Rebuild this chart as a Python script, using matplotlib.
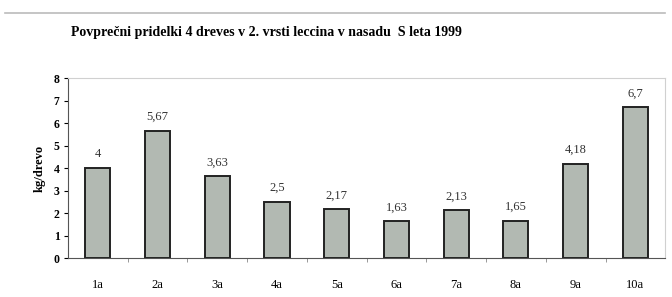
import matplotlib.pyplot as plt
from matplotlib.lines import Line2D

categories = ['1a', '2a', '3a', '4a', '5a', '6a', '7a', '8a', '9a', '10a']
values = [4.0, 5.67, 3.63, 2.5, 2.17, 1.63, 2.13, 1.65, 4.18, 6.7]
labels = ['4', '5,67', '3,63', '2,5', '2,17', '1,63', '2,13', '1,65', '4,18', '6,7']
yticks = [0, 1, 2, 3, 4, 5, 6, 7, 8]

plt.rcParams['font.family'] = ['Liberation Serif', 'DejaVu Serif']

fig = plt.figure(figsize=(6.72, 2.97), dpi=100)
ax = fig.add_axes([0.101, 0.131, 0.889, 0.606])

x = range(len(categories))
bars = ax.bar(x, values, width=0.42, color='#b2b9b2', edgecolor='#222222', linewidth=1.4)
for b, lab in zip(bars, labels):
    ax.text(b.get_x() + b.get_width() / 2, b.get_height() + 0.35, lab,
            ha='center', va='bottom', fontsize=9, color='#333333')

ax.set_xlim(-0.5, len(categories) - 0.5)
ax.set_ylim(0, 8)
ax.set_yticks(yticks)
ax.set_yticklabels([str(t) for t in yticks], fontsize=8.5, fontweight='bold')
ax.set_xticks(list(x))
ax.set_xticklabels(categories, fontsize=9)
ax.set_xticks([i + 0.5 for i in range(len(categories) - 1)], minor=True)
ax.tick_params(axis='x', which='major', length=0, pad=15)
ax.tick_params(axis='x', which='minor', length=3, color='#888888')
ax.tick_params(axis='y', length=3, pad=3)
ax.set_ylabel('kg/drevo', fontsize=9, fontweight='bold', labelpad=6)

for side in ['top', 'right']:
    ax.spines[side].set_color('#d0d0d0')
ax.spines['left'].set_color('#555555')
ax.spines['bottom'].set_color('#555555')

fig.text(0.396, 0.89, 'Povprečni pridelki 4 dreves v 2. vrsti leccina v nasadu  S leta 1999',
         ha='center', va='center', fontsize=10, fontweight='bold')
fig.add_artist(Line2D([0.008, 0.99], [0.955, 0.955], color='#bbbbbb', linewidth=1.2))

fig.savefig('out.png')
